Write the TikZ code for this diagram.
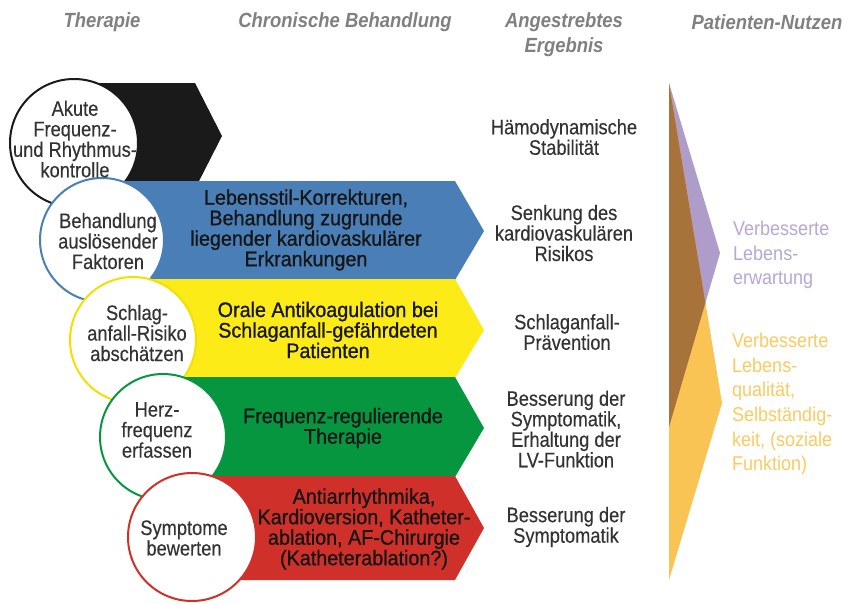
\documentclass[tikz,border=0pt]{standalone}
\usepackage{fontspec}
\setmainfont{Liberation Sans}
\newfontfamily\bandf[FakeStretch=0.94,FakeBold=0.9]{Liberation Sans}
\newfontfamily\normf[FakeStretch=0.87,FakeBold=0.3]{Liberation Sans}
\newfontfamily\headf[FakeStretch=0.9]{Liberation Sans}
\newfontfamily\rightf[FakeStretch=0.9]{Liberation Sans}
\definecolor{cblack}{HTML}{1A1A1A}
\definecolor{cblue}{HTML}{4A7EB6}
\definecolor{cyellow}{HTML}{FCEB17}
\definecolor{cyellowline}{HTML}{F2E000}
\definecolor{cgreen}{HTML}{069640}
\definecolor{cred}{HTML}{CF3029}
\definecolor{cbrown}{HTML}{A8733A}
\definecolor{clav}{HTML}{AE9DCB}
\definecolor{corange}{HTML}{F9C453}
\definecolor{clavtext}{HTML}{B6A7D6}
\definecolor{corangetext}{HTML}{FBCA60}
\definecolor{chead}{HTML}{808080}
\definecolor{ctext}{HTML}{333333}
\definecolor{cbandtext}{HTML}{161616}
\begin{document}
\begin{tikzpicture}[x=1pt,y=-1pt,
  circ/.style={circle,draw=#1,line width=2pt,fill=white,inner sep=0pt},
  bandtext/.style={align=center,inner sep=0pt,text=cbandtext,font=\bandf\fontsize{21}{20.5}\selectfont},
  circtext/.style={align=center,inner sep=0pt,text=ctext,font=\normf\fontsize{21}{20.5}\selectfont},
  restext/.style={align=center,inner sep=0pt,text=ctext,font=\normf\fontsize{21}{20.5}\selectfont},
  headtext/.style={align=center,inner sep=0pt,text=chead,font=\headf\bfseries\itshape\fontsize{20.5}{25}\selectfont},
  benefit/.style={align=left,inner sep=0pt,anchor=west,text=#1,font=\rightf\fontsize{20}{24.6}\selectfont}]
\useasboundingbox (0,0) rectangle (848,603);
% headers
\node[headtext] (h1) at (102,22) {Therapie};
\node[headtext] (h2) at (345,22) {Chronische Behandlung};
\node[headtext] (h3) at (564,35) {Angestrebtes\\Ergebnis};
\node[headtext] (h4) at (767,22) {Patienten-Nutzen};
% bands and circles
\fill[cblack] (74,83) -- (195,83) -- (222,136) -- (195,189) -- (74,189) -- cycle;
\node[circ=cblack,minimum size=128pt] (c1) at (74,143) {};
\fill[cblue] (102,181) -- (455,181) -- (484,231) -- (455,280) -- (102,280) -- cycle;
\node[circ=cblue,minimum size=124pt] (c2) at (102,240) {};
\fill[cyellow] (133,279) -- (455,279) -- (484,330) -- (455,378) -- (133,378) -- cycle;
\node[circ=cyellowline,minimum size=126pt] (c3) at (133,340) {};
\fill[cgreen] (163,377) -- (455,377) -- (484,428) -- (455,477) -- (163,477) -- cycle;
\node[circ=cgreen,minimum size=126pt] (c4) at (163,437) {};
\fill[cred] (192,476) -- (455,476) -- (484,528) -- (455,580) -- (192,580) -- cycle;
\node[circ=cred,minimum size=128pt] (c5) at (192,537) {};
% circle texts
\node[circtext] (t1) at (75,139) {Akute\\Frequenz-\\und Rhythmus-\\kontrolle};
\node[circtext] (t2) at (108,241) {Behandlung\\auslösender\\Faktoren};
\node[circtext] (t3) at (137,333) {Schlag-\\anfall-Risiko\\abschätzen};
\node[circtext] (t4) at (157,430) {Herz-\\frequenz\\erfassen};
\node[circtext] (t5) at (184,538) {Symptome\\bewerten};
% band texts
\node[bandtext] (b2) at (306,230) {Lebensstil-Korrekturen,\\Behandlung zugrunde\\liegender kardiovaskulärer\\Erkrankungen};
\node[bandtext] (b3) at (328,330) {Orale Antikoagulation bei\\Schlaganfall-gefährdeten\\Patienten};
\node[bandtext] (b4) at (343,428) {Frequenz-regulierende\\Therapie};
\node[bandtext] (b5) at (364,529) {Antiarrhythmika,\\Kardioversion, Katheter-\\ablation, AF-Chirurgie\\(Katheterablation?)};
% results
\node[restext] (r1) at (564,137) {Hämodynamische\\Stabilität};
\node[restext] (r2) at (564,233) {Senkung des\\kardiovaskulären\\Risikos};
\node[restext] (r3) at (567,332) {Schlaganfall-\\Prävention};
\node[restext] (r4) at (566,429) {Besserung der\\Symptomatik,\\Erhaltung der\\LV-Funktion};
\node[restext] (r5) at (566,527) {Besserung der\\Symptomatik};
% benefit arrows
\fill[clav] (669,83) -- (720,253) -- (669,427) -- cycle;
\fill[corange] (669,83) -- (722,403) -- (669,580) -- cycle;
\begin{scope}
  \clip (669,83) -- (720,253) -- (669,427) -- cycle;
  \fill[cbrown] (669,83) -- (722,403) -- (669,580) -- cycle;
\end{scope}
\node[benefit=clavtext] (p1) at (733,255) {Verbesserte\\Lebens-\\erwartung};
\node[benefit=corangetext] (p2) at (732,404) {Verbesserte\\Lebens-\\qualität,\\Selbständig-\\keit, (soziale\\Funktion)};
\end{tikzpicture}
\end{document}
